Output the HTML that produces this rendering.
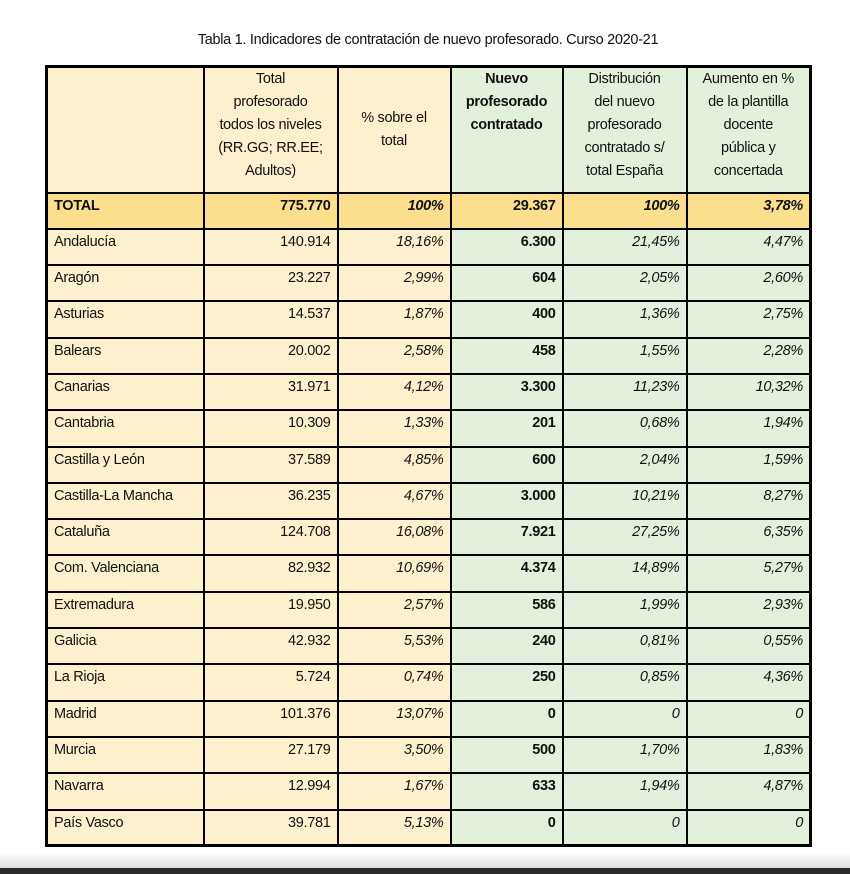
<!DOCTYPE html>
<html><head><meta charset="utf-8"><style>
body{margin:0;width:850px;height:874px;background:#fff;position:relative;overflow:hidden;font-family:"Liberation Sans",sans-serif;color:#111}
#title{position:absolute;top:32px;left:0;width:856px;text-align:center;font-size:14.5px;letter-spacing:-0.3px}
table{position:absolute;left:45px;top:65px;border-collapse:collapse;border:3px solid #000;font-size:14.5px;letter-spacing:-0.3px}
td,th{border:2px solid #000;padding:0 6px;vertical-align:top;line-height:18px}
th{font-weight:normal;text-align:center;line-height:23px;padding-top:0}
.y{background:#fdf1cd}.g{background:#e3f1dc}.t{background:#fbdf8f}
tr.r td{height:36.3px;padding-top:3px;box-sizing:border-box}
td.n{text-align:right}.i{font-style:italic}.b{font-weight:bold}
#foot{position:absolute;left:0;top:852px;width:850px;height:16px;background:linear-gradient(#fff,#ddd)}
#bar{position:absolute;left:0;top:868px;width:850px;height:6px;background:#2a2a2a}
</style></head><body>
<div id="title">Tabla 1. Indicadores de contratación de nuevo profesorado. Curso 2020-21</div>
<table>
<colgroup><col style="width:157px"><col style="width:134px"><col style="width:113px"><col style="width:112px"><col style="width:124px"><col style="width:124px"></colgroup>
<tr style="height:126px">
<th class="y"></th>
<th class="y">Total<br>profesorado<br>todos los niveles<br>(RR.GG; RR.EE;<br>Adultos)</th>
<th class="y" style="vertical-align:middle">% sobre el<br>total</th>
<th class="g b" style="font-weight:bold">Nuevo<br>profesorado<br>contratado</th>
<th class="g">Distribución<br>del nuevo<br>profesorado<br>contratado s/<br>total España</th>
<th class="g">Aumento en %<br>de la plantilla<br>docente<br>pública y<br>concertada</th>
</tr>
<tbody id="tb"></tbody>
</table>
<div id="foot"></div>
<div id="bar"></div>
<script>
const regions=["Andalucía","Aragón","Asturias","Balears","Canarias","Cantabria","Castilla y León","Castilla-La Mancha","Cataluña","Com. Valenciana","Extremadura","Galicia","La Rioja","Madrid","Murcia","Navarra","País Vasco"];
const totalProf=["140.914","23.227","14.537","20.002","31.971","10.309","37.589","36.235","124.708","82.932","19.950","42.932","5.724","101.376","27.179","12.994","39.781"];
const pctTotal=["18,16%","2,99%","1,87%","2,58%","4,12%","1,33%","4,85%","4,67%","16,08%","10,69%","2,57%","5,53%","0,74%","13,07%","3,50%","1,67%","5,13%"];
const nuevo=["6.300","604","400","458","3.300","201","600","3.000","7.921","4.374","586","240","250","0","500","633","0"];
const distrib=["21,45%","2,05%","1,36%","1,55%","11,23%","0,68%","2,04%","10,21%","27,25%","14,89%","1,99%","0,81%","0,85%","0","1,70%","1,94%","0"];
const aumento=["4,47%","2,60%","2,75%","2,28%","10,32%","1,94%","1,59%","8,27%","6,35%","5,27%","2,93%","0,55%","4,36%","0","1,83%","4,87%","0"];
const totals=["TOTAL","775.770","100%","29.367","100%","3,78%"];
const tb=document.getElementById('tb');
function row(vals,isTotal){
  const tr=document.createElement('tr');tr.className='r';
  
  
  const cls=[['y'],['y','n'],['y','n','i'],['g','n','b'],['g','n','i'],['g','n','i']];
  vals.forEach((v,i)=>{
    const td=document.createElement('td');
    td.className=cls[i].join(' ')+(isTotal?' t b':'');
    td.textContent=v;
    
    
    tr.appendChild(td);
  });
  tb.appendChild(tr);
}
row(totals,true);
regions.forEach((r,i)=>row([r,totalProf[i],pctTotal[i],nuevo[i],distrib[i],aumento[i]],false));
</script>
</body></html>
